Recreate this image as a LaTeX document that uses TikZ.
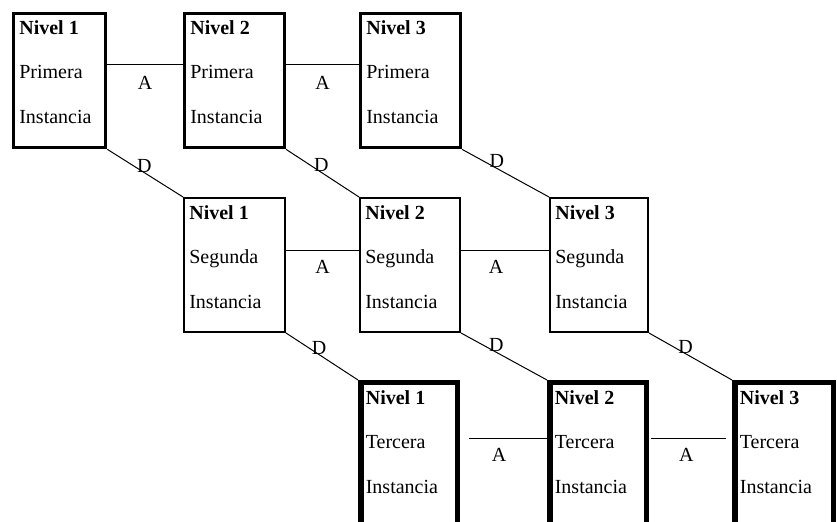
\documentclass[tikz,border=0pt]{standalone}
\usepackage{fontspec}
\setmainfont{Liberation Serif}
\usetikzlibrary{calc}
\tikzset{>=latex}

\begin{document}
\begin{tikzpicture}[x=0.6pt, y=-0.6pt,
    nivel/.style={draw, rectangle, anchor=north west, inner sep=0pt, minimum height=134*0.6pt},
    primera/.style={nivel, line width=2pt},
    segunda/.style={nivel, line width=1.2pt},
    tercera/.style={nivel, line width=3.3pt, minimum height=160*0.6pt},
    texto/.style={anchor=north west, inner sep=0pt, align=left, font=\fontsize{12}{26.7}\selectfont},
    enlace/.style={line width=0.6pt},
    etiqueta/.style={inner sep=0pt, font=\fontsize{12}{14}\selectfont}]
            \useasboundingbox (0,0) rectangle (837,522);
            \clip (0,0) rectangle (837,522);
            % primera instancia
            \node[primera, minimum width=92*0.6pt] (p1) at (12,12) {};
            \node[primera, minimum width=99.7*0.6pt] (p2) at (183,12) {};
            \node[primera, minimum width=99.7*0.6pt] (p3) at (359,12) {};
            \node[texto] (p1t) at ($(p1.north west)+(7,8)$) {\textbf{Nivel 1}\\Primera\\Instancia};
            \node[texto] (p2t) at ($(p2.north west)+(7,8)$) {\textbf{Nivel 2}\\Primera\\Instancia};
            \node[texto] (p3t) at ($(p3.north west)+(7,8)$) {\textbf{Nivel 3}\\Primera\\Instancia};
            % segunda instancia
            \node[segunda, minimum width=101*0.6pt] (s1) at (183,197) {};
            \node[segunda, minimum width=100*0.6pt] (s2) at (359,197) {};
            \node[segunda, minimum width=98*0.6pt] (s3) at (549,197) {};
            \node[texto] (s1t) at ($(s1.north west)+(6,8)$) {\textbf{Nivel 1}\\Segunda\\Instancia};
            \node[texto] (s2t) at ($(s2.north west)+(6,8)$) {\textbf{Nivel 2}\\Segunda\\Instancia};
            \node[texto] (s3t) at ($(s3.north west)+(6,8)$) {\textbf{Nivel 3}\\Segunda\\Instancia};
            % tercera instancia
            \node[tercera, minimum width=96.5*0.6pt] (t1) at (358,380) {};
            \node[tercera, minimum width=96.5*0.6pt] (t2) at (547,380) {};
            \node[tercera, minimum width=98.5*0.6pt] (t3) at (732,380) {};
            \node[texto] (t1t) at ($(t1.north west)+(7.5,10)$) {\textbf{Nivel 1}\\Tercera\\Instancia};
            \node[texto] (t2t) at ($(t2.north west)+(7.5,10)$) {\textbf{Nivel 2}\\Tercera\\Instancia};
            \node[texto] (t3t) at ($(t3.north west)+(7.5,10)$) {\textbf{Nivel 3}\\Tercera\\Instancia};
            % enlaces A
            \draw[enlace] ($(p1.north east)+(0,53)$) -- ($(p2.north west)+(0,53)$) node[etiqueta, pos=0.5, below=6.5pt] {A};
            \draw[enlace] ($(p2.north east)+(0,53)$) -- ($(p3.north west)+(0,53)$) node[etiqueta, pos=0.5, below=6.5pt] {A};
            \draw[enlace] ($(s1.north east)+(0,54)$) -- ($(s2.north west)+(0,54)$) node[etiqueta, pos=0.5, below=5.5pt] {A};
            \draw[enlace] ($(s2.north east)+(0,54)$) -- ($(s3.north west)+(0,54)$) node[etiqueta, pos=0.4, below=5.5pt] {A};
            \draw[enlace, shorten <=5.4pt] ($(t1.north east)+(0,59)$) -- ($(t2.north west)+(0,59)$) node[etiqueta, pos=0.45, below=5.5pt] {A};
            \draw[enlace, shorten <=1.2pt, shorten >=3.6pt] ($(t2.north east)+(0,59)$) -- ($(t3.north west)+(0,59)$) node[etiqueta, pos=0.45, below=5.5pt] {A};
            % enlaces D
            \draw[enlace] (p1.south east) -- (s1.north west) node[etiqueta, pos=0.49, above=0pt] {D};
            \draw[enlace] (p2.south east) -- (s2.north west) node[etiqueta, pos=0.485, above=0pt] {D};
            \draw[enlace] (p3.south east) -- (s3.north west) node[etiqueta, pos=0.4, above=0pt] {D};
            \draw[enlace] (s1.south east) -- (t1.north west) node[etiqueta, pos=0.46, above=0pt] {D};
            \draw[enlace] (s2.south east) -- (t2.north west) node[etiqueta, pos=0.41, above=0pt] {D};
            \draw[enlace] (s3.south east) -- (t3.north west) node[etiqueta, pos=0.44, above=0pt] {D};
        \end{tikzpicture}
\end{document}
